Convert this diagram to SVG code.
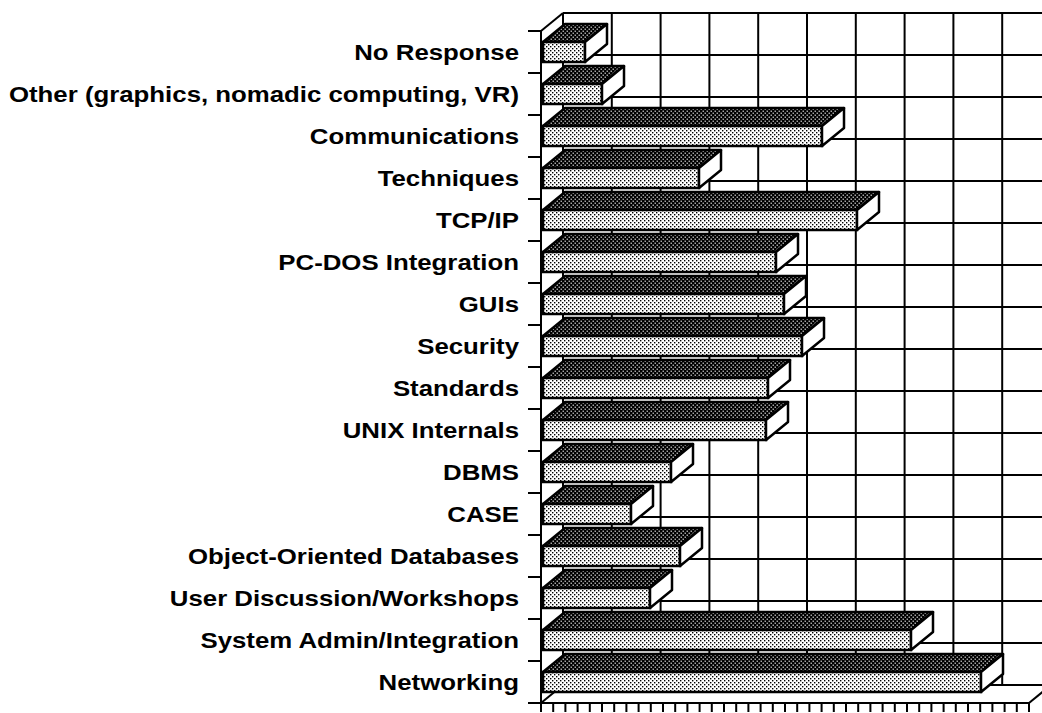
<svg xmlns="http://www.w3.org/2000/svg" width="1042" height="713" viewBox="0 0 1042 713">
<defs>
<pattern id="dark" width="4" height="4" patternUnits="userSpaceOnUse">
<rect width="4" height="4" fill="#000"/>
<rect x="0.6" y="0.6" width="1.2" height="1.2" fill="#fff"/>
<rect x="2.6" y="2.6" width="1.2" height="1.2" fill="#fff"/>
</pattern>
<pattern id="light" width="4" height="4" patternUnits="userSpaceOnUse">
<rect width="4" height="4" fill="#fff"/>
<rect x="0" y="0" width="1.4" height="1.4" fill="#000"/>
<rect x="2" y="2" width="1.4" height="1.4" fill="#000"/>
</pattern>
<style>
.grid line{stroke:#000;stroke-width:2;fill:none}
.ax{stroke:#000;stroke-width:2;fill:none}
.top{fill:url(#dark);stroke:#000;stroke-width:2.5;stroke-linejoin:round}
.front{fill:url(#light);stroke:#000;stroke-width:2.5}
.end{fill:#fff;stroke:#000;stroke-width:2.5;stroke-linejoin:round}
.lbl{font-family:"Liberation Sans",Arial,Helvetica,sans-serif;font-weight:bold;font-size:21.5px;fill:#000;text-anchor:end}
</style>
</defs>
<rect width="1042" height="713" fill="#fff"/>
<g id="connectors">
<g class="grid">
<line x1="563" y1="13" x2="1042" y2="13"/>
<line x1="563" y1="55" x2="1042" y2="55"/>
<line x1="563" y1="97" x2="1042" y2="97"/>
<line x1="563" y1="139" x2="1042" y2="139"/>
<line x1="563" y1="181" x2="1042" y2="181"/>
<line x1="563" y1="223" x2="1042" y2="223"/>
<line x1="563" y1="265" x2="1042" y2="265"/>
<line x1="563" y1="307" x2="1042" y2="307"/>
<line x1="563" y1="349" x2="1042" y2="349"/>
<line x1="563" y1="391" x2="1042" y2="391"/>
<line x1="563" y1="433" x2="1042" y2="433"/>
<line x1="563" y1="475" x2="1042" y2="475"/>
<line x1="563" y1="517" x2="1042" y2="517"/>
<line x1="563" y1="559" x2="1042" y2="559"/>
<line x1="563" y1="601" x2="1042" y2="601"/>
<line x1="563" y1="643" x2="1042" y2="643"/>
<line x1="563" y1="685" x2="1042" y2="685"/>
<line x1="563" y1="13" x2="563" y2="685"/>
<line x1="611.8" y1="13" x2="611.8" y2="685"/>
<line x1="660.6" y1="13" x2="660.6" y2="685"/>
<line x1="709.4" y1="13" x2="709.4" y2="685"/>
<line x1="758.2" y1="13" x2="758.2" y2="685"/>
<line x1="807" y1="13" x2="807" y2="685"/>
<line x1="855.8" y1="13" x2="855.8" y2="685"/>
<line x1="904.6" y1="13" x2="904.6" y2="685"/>
<line x1="953.4" y1="13" x2="953.4" y2="685"/>
<line x1="1002.2" y1="13" x2="1002.2" y2="685"/>
</g>
<g class="ax">
<line x1="541" y1="31" x2="541" y2="703"/>
<line x1="528" y1="703" x2="1029" y2="703"/>
<line x1="541" y1="31" x2="563" y2="13"/>
<line x1="541" y1="703" x2="563" y2="685"/>
<line x1="1029" y1="703" x2="1051" y2="685"/>
<path d="M528 31H541M528 73H541M528 115H541M528 157H541M528 199H541M528 241H541M528 283H541M528 325H541M528 367H541M528 409H541M528 451H541M528 493H541M528 535H541M528 577H541M528 619H541M528 661H541"/>
<path d="M541 703V712M553.2 703V712M565.4 703V712M577.6 703V712M589.8 703V712M602 703V712M614.2 703V712M626.4 703V712M638.6 703V712M650.8 703V712M663 703V712M675.2 703V712M687.4 703V712M699.6 703V712M711.8 703V712M724 703V712M736.2 703V712M748.4 703V712M760.6 703V712M772.8 703V712M785 703V712M797.2 703V712M809.4 703V712M821.6 703V712M833.8 703V712M846 703V712M858.2 703V712M870.4 703V712M882.6 703V712M894.8 703V712M907 703V712M919.2 703V712M931.4 703V712M943.6 703V712M955.8 703V712M968 703V712M980.2 703V712M992.4 703V712M1004.6 703V712M1016.8 703V712M1029 703V712"/>
</g>
</g>
<g id="bar-no-response">
<polygon class="top" points="543,42 585,42 607,24 565,24"/>
<rect class="front" x="543" y="42" width="42" height="20"/>
<polygon class="end" points="585,42 607,24 607,44 585,62"/>
<text class="lbl" transform="translate(519,60) scale(1.2,1)">No Response</text>
</g>
<g id="bar-other">
<polygon class="top" points="543,84 602,84 624,66 565,66"/>
<rect class="front" x="543" y="84" width="59" height="20"/>
<polygon class="end" points="602,84 624,66 624,86 602,104"/>
<text class="lbl" transform="translate(519,102) scale(1.2,1)">Other (graphics, nomadic computing, VR)</text>
</g>
<g id="bar-communications">
<polygon class="top" points="543,126 822,126 844,108 565,108"/>
<rect class="front" x="543" y="126" width="279" height="20"/>
<polygon class="end" points="822,126 844,108 844,128 822,146"/>
<text class="lbl" transform="translate(519,144) scale(1.2,1)">Communications</text>
</g>
<g id="bar-techniques">
<polygon class="top" points="543,168 699,168 721,150 565,150"/>
<rect class="front" x="543" y="168" width="156" height="20"/>
<polygon class="end" points="699,168 721,150 721,170 699,188"/>
<text class="lbl" transform="translate(519,186) scale(1.2,1)">Techniques</text>
</g>
<g id="bar-tcpip">
<polygon class="top" points="543,210 857,210 879,192 565,192"/>
<rect class="front" x="543" y="210" width="314" height="20"/>
<polygon class="end" points="857,210 879,192 879,212 857,230"/>
<text class="lbl" transform="translate(519,228) scale(1.2,1)">TCP/IP</text>
</g>
<g id="bar-pcdos">
<polygon class="top" points="543,252 776,252 798,234 565,234"/>
<rect class="front" x="543" y="252" width="233" height="20"/>
<polygon class="end" points="776,252 798,234 798,254 776,272"/>
<text class="lbl" transform="translate(519,270) scale(1.2,1)">PC-DOS Integration</text>
</g>
<g id="bar-guis">
<polygon class="top" points="543,294 784,294 806,276 565,276"/>
<rect class="front" x="543" y="294" width="241" height="20"/>
<polygon class="end" points="784,294 806,276 806,296 784,314"/>
<text class="lbl" transform="translate(519,312) scale(1.2,1)">GUIs</text>
</g>
<g id="bar-security">
<polygon class="top" points="543,336 802,336 824,318 565,318"/>
<rect class="front" x="543" y="336" width="259" height="20"/>
<polygon class="end" points="802,336 824,318 824,338 802,356"/>
<text class="lbl" transform="translate(519,354) scale(1.2,1)">Security</text>
</g>
<g id="bar-standards">
<polygon class="top" points="543,378 768,378 790,360 565,360"/>
<rect class="front" x="543" y="378" width="225" height="20"/>
<polygon class="end" points="768,378 790,360 790,380 768,398"/>
<text class="lbl" transform="translate(519,396) scale(1.2,1)">Standards</text>
</g>
<g id="bar-unix">
<polygon class="top" points="543,420 766,420 788,402 565,402"/>
<rect class="front" x="543" y="420" width="223" height="20"/>
<polygon class="end" points="766,420 788,402 788,422 766,440"/>
<text class="lbl" transform="translate(519,438) scale(1.2,1)">UNIX Internals</text>
</g>
<g id="bar-dbms">
<polygon class="top" points="543,462 671,462 693,444 565,444"/>
<rect class="front" x="543" y="462" width="128" height="20"/>
<polygon class="end" points="671,462 693,444 693,464 671,482"/>
<text class="lbl" transform="translate(519,480) scale(1.2,1)">DBMS</text>
</g>
<g id="bar-case">
<polygon class="top" points="543,504 631,504 653,486 565,486"/>
<rect class="front" x="543" y="504" width="88" height="20"/>
<polygon class="end" points="631,504 653,486 653,506 631,524"/>
<text class="lbl" transform="translate(519,522) scale(1.2,1)">CASE</text>
</g>
<g id="bar-oodb">
<polygon class="top" points="543,546 680,546 702,528 565,528"/>
<rect class="front" x="543" y="546" width="137" height="20"/>
<polygon class="end" points="680,546 702,528 702,548 680,566"/>
<text class="lbl" transform="translate(519,564) scale(1.2,1)">Object-Oriented Databases</text>
</g>
<g id="bar-user-discussion">
<polygon class="top" points="543,588 650,588 672,570 565,570"/>
<rect class="front" x="543" y="588" width="107" height="20"/>
<polygon class="end" points="650,588 672,570 672,590 650,608"/>
<text class="lbl" transform="translate(519,606) scale(1.2,1)">User Discussion/Workshops</text>
</g>
<g id="bar-sysadmin">
<polygon class="top" points="543,630 911,630 933,612 565,612"/>
<rect class="front" x="543" y="630" width="368" height="20"/>
<polygon class="end" points="911,630 933,612 933,632 911,650"/>
<text class="lbl" transform="translate(519,648) scale(1.2,1)">System Admin/Integration</text>
</g>
<g id="bar-networking">
<polygon class="top" points="543,672 981,672 1003,654 565,654"/>
<rect class="front" x="543" y="672" width="438" height="20"/>
<polygon class="end" points="981,672 1003,654 1003,674 981,692"/>
<text class="lbl" transform="translate(519,690) scale(1.2,1)">Networking</text>
</g>
</svg>
